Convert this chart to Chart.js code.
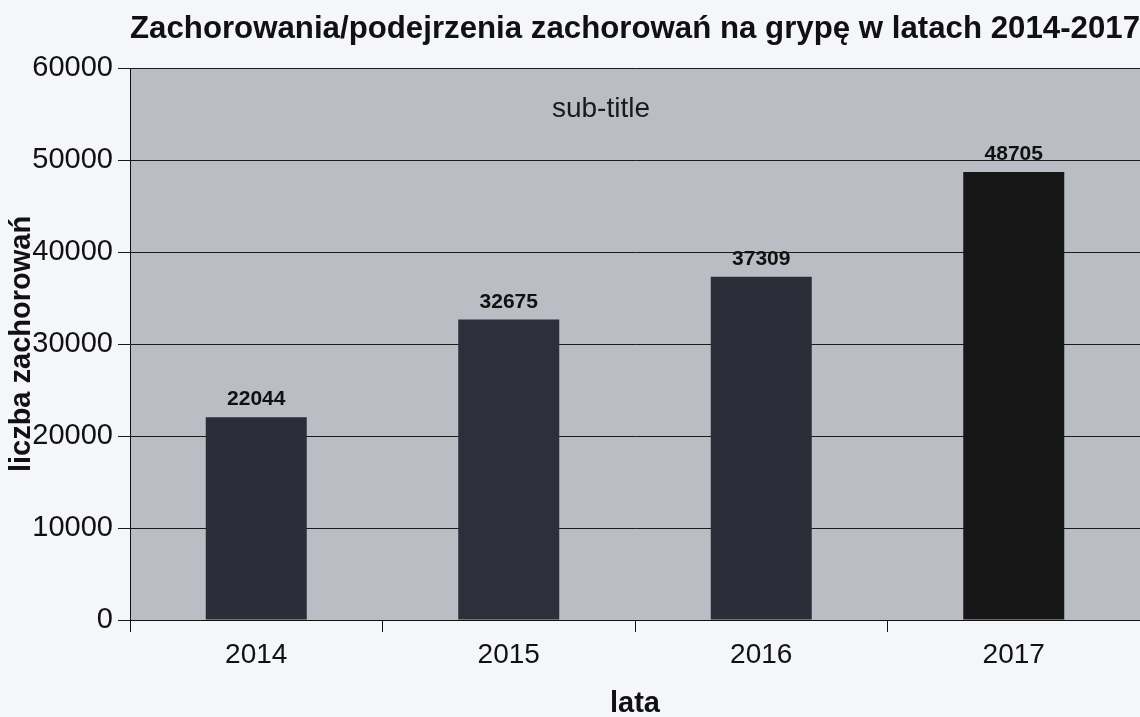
<!DOCTYPE html>
<html>
<head>
<meta charset="utf-8">
<script src="https://cdn.jsdelivr.net/npm/chart.js@4/dist/chart.umd.min.js"></script>
<style>
  html, body { margin: 0; padding: 0; background: #f4f6f9; }
  #wrap { width: 1140px; height: 717px; }
  canvas { display: block; }
</style>
</head>
<body>
<div id="wrap"><canvas id="c" width="1140" height="717"></canvas></div>
<script>
// ---- data ----
const categories = ['2014', '2015', '2016', '2017'];
const cases = [22044, 32675, 37309, 48705];
const barColors = ['#2c2d38', '#2f2f3c', '#2d2d3a', '#171717'];
const yMin = 0;
const yMax = 60000;
const yStep = 10000;
const titleText = 'Zachorowania/podejrzenia zachorowań na grypę w latach 2014-2017';
const subTitleText = 'sub-title';
const yTitleText = 'liczba zachorowań';
const xTitleText = 'lata';

const FONT = "'Liberation Sans', Arial, sans-serif";

const plotBg = {
  id: 'plotBg',
  beforeDraw(chart) {
    const { ctx, chartArea: a } = chart;
    ctx.save();
    ctx.fillStyle = '#f4f6f9';
    ctx.fillRect(0, 0, chart.width, chart.height);
    ctx.fillStyle = '#babdc4';
    ctx.fillRect(a.left, a.top, a.right - a.left, a.bottom - a.top);
    ctx.restore();
  }
};

const subTitle = {
  id: 'subTitle',
  beforeDatasetsDraw(chart) {
    const { ctx, chartArea: a } = chart;
    ctx.save();
    ctx.font = '28px ' + FONT;
    ctx.fillStyle = '#1a1a1a';
    ctx.textAlign = 'center';
    ctx.textBaseline = 'middle';
    ctx.fillText(subTitleText, (a.left + a.right) / 2 - 34, a.top + 41);
    ctx.restore();
  }
};

const valueLabels = {
  id: 'valueLabels',
  afterDatasetsDraw(chart) {
    const { ctx } = chart;
    const meta = chart.getDatasetMeta(0);
    ctx.save();
    ctx.font = 'bold 21px ' + FONT;
    ctx.fillStyle = '#111';
    ctx.textAlign = 'center';
    ctx.textBaseline = 'bottom';
    meta.data.forEach((bar, i) => {
      ctx.fillText(String(cases[i]), bar.x, bar.y - 7);
    });
    ctx.restore();
  }
};

new Chart(document.getElementById('c'), {
  type: 'bar',
  data: {
    labels: categories,
    datasets: [{
      data: cases,
      backgroundColor: barColors,
      borderWidth: 0,
      barPercentage: 0.4,
      categoryPercentage: 1.0
    }]
  },
  options: {
    responsive: false,
    animation: false,
    devicePixelRatio: 1,
    layout: { padding: { left: 0, right: 0, top: 0, bottom: 0 } },
    plugins: {
      legend: { display: false },
      tooltip: { enabled: false },
      title: {
        display: true,
        text: titleText,
        fullSize: false,
        align: 'end',
        color: '#111',
        font: { family: FONT, size: 32, weight: 'bold', lineHeight: 1.2 },
        padding: { top: 10, bottom: 19.6 }
      }
    },
    scales: {
      x: {
        grid: {
          offset: true,
          drawOnChartArea: false,
          drawTicks: true,
          tickLength: 12,
          color: '#111',
          lineWidth: 1
        },
        border: { display: true, color: '#111', width: 1 },
        ticks: {
          color: '#111',
          font: { family: FONT, size: 28 },
          padding: 6,
          maxRotation: 0
        },
        title: {
          display: true,
          text: xTitleText,
          color: '#111',
          font: { family: FONT, size: 29, weight: 'bold', lineHeight: 0.9 },
          padding: { top: 0, bottom: 0 }
        },
        afterFit(scale) { scale.height = 97; }
      },
      y: {
        min: yMin,
        max: yMax,
        grid: {
          color: '#1a1a1a',
          lineWidth: 1,
          drawTicks: true,
          tickLength: 12
        },
        border: { display: true, color: '#111', width: 1 },
        ticks: {
          stepSize: yStep,
          color: '#111',
          font: { family: FONT, size: 29 },
          padding: 5,
          callback: (v) => String(v)
        },
        title: {
          display: true,
          text: yTitleText,
          color: '#111',
          font: { family: FONT, size: 29, weight: 'bold', lineHeight: 1.2 },
          padding: { top: 5, bottom: 0 }
        },
        afterFit(scale) { scale.width = 130; }
      }
    }
  },
  plugins: [plotBg, subTitle, valueLabels]
});
</script>
</body>
</html>
